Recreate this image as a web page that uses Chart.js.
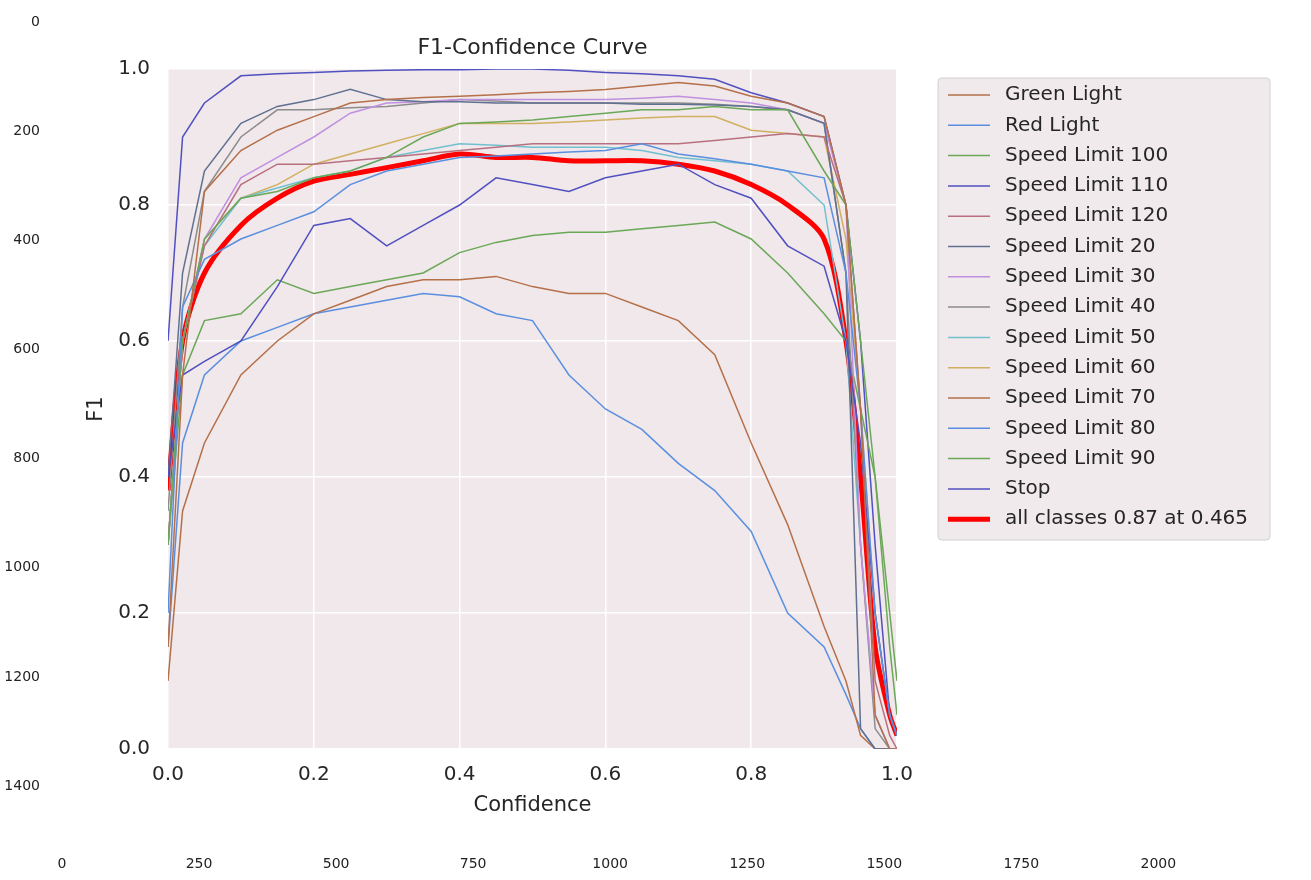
<!DOCTYPE html>
<html>
<head>
<meta charset="utf-8">
<script src="https://cdn.jsdelivr.net/npm/chart.js@4/dist/chart.umd.min.js"></script>
<style>
  body { margin: 0; background: #fff; }
  #wrap { position: relative; width: 1311px; height: 880px; }
  canvas { position: absolute; left: 0; top: 0; }
</style>
</head>
<body>
<div id="wrap">
  <canvas id="outer" width="1311" height="880"></canvas>
  <canvas id="inner" width="1311" height="880"></canvas>
</div>
<script>
// outer pixel axes of the image
const outerXTicks = [0, 250, 500, 750, 1000, 1250, 1500, 1750, 2000];
const outerYTicks = [0, 200, 400, 600, 800, 1000, 1200, 1400];

// F1 curves
const confidence = [0, 0.02, 0.05, 0.1, 0.15, 0.2, 0.25, 0.3, 0.35, 0.4, 0.45, 0.5, 0.55, 0.6, 0.65, 0.7, 0.75, 0.8, 0.85, 0.9, 0.93, 0.95, 0.97, 0.99, 1.0];
const classNames = ['Green Light', 'Red Light', 'Speed Limit 100', 'Speed Limit 110', 'Speed Limit 120', 'Speed Limit 20', 'Speed Limit 30', 'Speed Limit 40', 'Speed Limit 50', 'Speed Limit 60', 'Speed Limit 70', 'Speed Limit 80', 'Speed Limit 90', 'Stop'];
const classColors = ['#b5704a', '#5a8fe0', '#6aa858', '#5050c0', '#b87080', '#607090', '#c090e0', '#8c8c8c', '#70c0d0', '#d0b060', '#b5704a', '#5a8fe0', '#6aa858', '#5050c0'];
const f1GreenLight = [0.15,0.55,0.82,0.88,0.91,0.93,0.95,0.955,0.958,0.96,0.962,0.965,0.967,0.97,0.975,0.98,0.975,0.96,0.95,0.93,0.8,0.5,0.05,0,0];
const f1RedLight = [0.2,0.65,0.72,0.75,0.77,0.79,0.83,0.85,0.86,0.87,0.872,0.875,0.878,0.88,0.89,0.875,0.868,0.86,0.85,0.84,0.7,0.5,0.2,0.05,0.02];
const f1Limit100 = [0.3,0.6,0.75,0.81,0.82,0.84,0.85,0.87,0.9,0.92,0.922,0.925,0.93,0.935,0.94,0.94,0.945,0.94,0.94,0.85,0.8,0.6,0.4,0.15,0.05];
const f1Limit110 = [0.4,0.55,0.57,0.6,0.68,0.77,0.78,0.74,0.77,0.8,0.84,0.83,0.82,0.84,0.85,0.86,0.83,0.81,0.74,0.71,0.6,0.45,0.2,0.05,0.02];
const f1Limit120 = [0.3,0.6,0.74,0.83,0.86,0.86,0.865,0.87,0.875,0.88,0.885,0.89,0.89,0.89,0.89,0.89,0.895,0.9,0.905,0.9,0.8,0.5,0.1,0.02,0];
const f1Limit20 = [0.4,0.7,0.85,0.92,0.945,0.955,0.97,0.955,0.952,0.952,0.95,0.95,0.95,0.95,0.948,0.948,0.947,0.945,0.94,0.92,0.7,0.03,0,0,0];
const f1Limit30 = [0.3,0.6,0.75,0.84,0.87,0.9,0.935,0.95,0.952,0.955,0.955,0.955,0.955,0.955,0.957,0.96,0.955,0.95,0.94,0.92,0.8,0.3,0.05,0,0];
const f1Limit40 = [0.35,0.65,0.82,0.9,0.94,0.94,0.943,0.945,0.95,0.955,0.953,0.95,0.95,0.95,0.95,0.95,0.948,0.945,0.94,0.92,0.7,0.3,0.03,0,0];
const f1Limit50 = [0.3,0.6,0.74,0.81,0.825,0.84,0.85,0.87,0.88,0.89,0.888,0.885,0.885,0.885,0.88,0.87,0.865,0.86,0.85,0.8,0.6,0.3,0.05,0,0];
const f1Limit60 = [0.3,0.6,0.75,0.81,0.83,0.86,0.875,0.89,0.905,0.92,0.92,0.92,0.922,0.925,0.928,0.93,0.93,0.91,0.905,0.9,0.75,0.5,0.2,0.05,0.02];
const f1Limit70 = [0.1,0.35,0.45,0.55,0.6,0.64,0.66,0.68,0.69,0.69,0.695,0.68,0.67,0.67,0.65,0.63,0.58,0.45,0.33,0.18,0.1,0.02,0,0,0];
const f1Limit80 = [0.15,0.45,0.55,0.6,0.62,0.64,0.65,0.66,0.67,0.665,0.64,0.63,0.55,0.5,0.47,0.42,0.38,0.32,0.2,0.15,0.08,0.03,0,0,0];
const f1Limit90 = [0.3,0.55,0.63,0.64,0.69,0.67,0.68,0.69,0.7,0.73,0.745,0.755,0.76,0.76,0.765,0.77,0.775,0.75,0.7,0.64,0.6,0.5,0.4,0.2,0.1];
const f1Stop = [0.6,0.9,0.95,0.99,0.993,0.995,0.997,0.998,0.999,0.999,1.0,1.0,0.998,0.995,0.993,0.99,0.985,0.965,0.95,0.93,0.8,0.6,0.3,0.05,0.02];
const f1AllClasses = [0.38,0.6,0.7,0.77,0.81,0.835,0.845,0.855,0.865,0.875,0.87,0.87,0.865,0.865,0.865,0.86,0.85,0.83,0.8,0.75,0.6,0.4,0.15,0.05,0.02];
const allLabel = 'all classes 0.87 at 0.465';

const classSeries = [f1GreenLight, f1RedLight, f1Limit100, f1Limit110, f1Limit120, f1Limit20, f1Limit30, f1Limit40, f1Limit50, f1Limit60, f1Limit70, f1Limit80, f1Limit90, f1Stop];

const FONT = '"DejaVu Sans", sans-serif';
const TXT = '#262626';

// ---- outer chart: only tick labels of the image axes
new Chart(document.getElementById('outer'), {
  type: 'scatter',
  data: { datasets: [] },
  options: {
    responsive: false, animation: false,
    layout: { padding: { left: 0, right: 43, top: 16, bottom: 0 } },
    plugins: { legend: { display: false }, tooltip: { enabled: false } },
    scales: {
      x: {
        min: 0, max: 2200,
        afterFit: s => { s.height = 34; },
        afterBuildTicks: s => { s.ticks = outerXTicks.map(v => ({ value: v })); },
        grid: { display: false }, border: { display: false },
        ticks: { color: '#222', font: { family: FONT, size: 14 }, padding: 2, callback: v => String(v) }
      },
      y: {
        reverse: true, min: 0, max: 1510,
        afterFit: s => { s.width = 62; },
        afterBuildTicks: s => { s.ticks = outerYTicks.map(v => ({ value: v })); },
        grid: { display: false }, border: { display: false },
        ticks: { color: '#222', font: { family: FONT, size: 14 }, padding: 14, callback: v => String(v) }
      }
    }
  }
});

// ---- inner chart: the F1 curves
const datasets = classSeries.map((arr, i) => ({
  label: classNames[i],
  data: arr.map((v, k) => ({ x: confidence[k], y: v })),
  borderColor: classColors[i], borderWidth: 1.5, pointRadius: 0, tension: 0
}));
datasets.push({
  label: allLabel,
  data: f1AllClasses.map((v, k) => ({ x: confidence[k], y: v })),
  borderColor: '#ff0000', borderWidth: 5, pointRadius: 0, tension: 0.3
});

const decor = {
  id: 'decor',
  beforeDraw(chart) {
    const { ctx, chartArea: a } = chart;
    ctx.save();
    ctx.fillStyle = '#f0e8ea';
    ctx.fillRect(a.left, a.top, a.right - a.left, a.bottom - a.top);
    ctx.restore();
  },
  afterDraw(chart) {
    const { ctx, chartArea: a } = chart;
    ctx.save();
    ctx.fillStyle = TXT;
    ctx.textAlign = 'center';
    ctx.textBaseline = 'middle';
    ctx.font = '22px ' + FONT;
    ctx.fillText('F1-Confidence Curve', (a.left + a.right) / 2, 48);
    ctx.font = '21px ' + FONT;
    ctx.fillText('Confidence', (a.left + a.right) / 2, 806);
    ctx.translate(97, (a.top + a.bottom) / 2);
    ctx.rotate(-Math.PI / 2);
    ctx.fillText('F1', 0, 0);
    ctx.restore();

    // legend
    const lx = 938, ly = 78, lw = 332, lh = 462;
    ctx.save();
    ctx.fillStyle = 'rgba(240,232,234,0.9)';
    ctx.strokeStyle = '#d0d0d0';
    ctx.lineWidth = 1;
    ctx.beginPath();
    ctx.roundRect(lx, ly, lw, lh, 4);
    ctx.fill(); ctx.stroke();
    ctx.font = '20px ' + FONT;
    ctx.textBaseline = 'middle';
    chart.data.datasets.forEach((d, i) => {
      const y = ly + 17 + i * 30.3;
      ctx.strokeStyle = d.borderColor;
      ctx.lineWidth = d.borderWidth;
      ctx.beginPath();
      ctx.moveTo(lx + 10, y); ctx.lineTo(lx + 52, y); ctx.stroke();
      ctx.fillStyle = TXT;
      ctx.fillText(d.label, lx + 67, y);
    });
    ctx.restore();
  }
};

new Chart(document.getElementById('inner'), {
  type: 'line',
  data: { datasets },
  options: {
    responsive: false, animation: false,
    layout: { padding: { left: 0, right: 414, top: 69, bottom: 0 } },
    plugins: { legend: { display: false }, tooltip: { enabled: false } },
    scales: {
      x: {
        type: 'linear', min: 0, max: 1,
        afterFit: s => { s.height = 131; },
        grid: { color: '#ffffff', lineWidth: 1.5, drawTicks: false },
        border: { display: false },
        ticks: { stepSize: 0.2, color: TXT, font: { family: FONT, size: 20 }, padding: 14,
                 callback: v => v.toFixed(1) }
      },
      y: {
        min: 0, max: 1,
        afterFit: s => { s.width = 168; },
        grid: { color: '#ffffff', lineWidth: 1.5, drawTicks: false },
        border: { display: false },
        ticks: { stepSize: 0.2, color: TXT, font: { family: FONT, size: 20 }, padding: 18,
                 callback: v => v.toFixed(1) }
      }
    }
  },
  plugins: [decor]
});
</script>
</body>
</html>
